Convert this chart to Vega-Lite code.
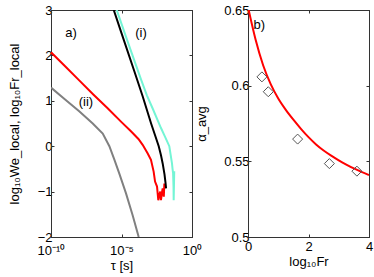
{
  "$schema": "https://vega.github.io/schema/vega-lite/v6.json",
  "padding": {"left": 7, "top": 3, "right": 2, "bottom": 0},
  "background": "white",
  "config": {
    "view": {"stroke": "#333", "strokeWidth": 1},
    "font": "Liberation Sans",
    "axis": {"grid": false, "labelFont": "Liberation Sans", "labelFontSize": 13, "labelColor": "#000", "titleFont": "Liberation Sans", "titleFontSize": 13, "titleFontWeight": "normal", "titleColor": "#000", "domainColor": "#333", "tickColor": "#333", "tickSize": -3, "labelPadding": 2, "labelFlush": false, "labelOverlap": false}
  },
  "datasets": {
    "curves": [
      {"series": "red", "tau": 1e-10, "v": 2.07},
      {"series": "red", "tau": 1e-9, "v": 1.76},
      {"series": "red", "tau": 1e-8, "v": 1.45},
      {"series": "red", "tau": 1e-7, "v": 1.14},
      {"series": "red", "tau": 1e-6, "v": 0.84},
      {"series": "red", "tau": 1e-5, "v": 0.53},
      {"series": "red", "tau": 4.68e-5, "v": 0.33},
      {"series": "red", "tau": 1.585e-4, "v": 0.16},
      {"series": "red", "tau": 3.162e-4, "v": 0.03},
      {"series": "red", "tau": 7.24e-4, "v": -0.16},
      {"series": "red", "tau": 1.23e-3, "v": -0.30},
      {"series": "red", "tau": 1.905e-3, "v": -0.56},
      {"series": "red", "tau": 2.399e-3, "v": -0.78},
      {"series": "red", "tau": 3.311e-3, "v": -0.89},
      {"series": "red", "tau": 4.074e-3, "v": -1.19},
      {"series": "red", "tau": 5.012e-3, "v": -1.05},
      {"series": "red", "tau": 5.623e-3, "v": -1.0},
      {"series": "red", "tau": 6.31e-3, "v": -1.19},
      {"series": "red", "tau": 7.586e-3, "v": -1.0},
      {"series": "red", "tau": 8.318e-3, "v": -0.93},
      {"series": "red", "tau": 1e-2, "v": -1.11},
      {"series": "red", "tau": 1.096e-2, "v": -0.82},
      {"series": "cyan", "tau": 4.571e-6, "v": 3.0},
      {"series": "cyan", "tau": 3.162e-5, "v": 2.25},
      {"series": "cyan", "tau": 2.239e-4, "v": 1.5},
      {"series": "cyan", "tau": 6.31e-4, "v": 1.12},
      {"series": "cyan", "tau": 1.622e-3, "v": 0.83},
      {"series": "cyan", "tau": 6.31e-3, "v": 0.4},
      {"series": "cyan", "tau": 1.259e-2, "v": 0.2},
      {"series": "cyan", "tau": 2.455e-2, "v": 0.0},
      {"series": "cyan", "tau": 3.802e-2, "v": -0.38},
      {"series": "cyan", "tau": 4.169e-2, "v": -0.5},
      {"series": "cyan", "tau": 5.495e-2, "v": -0.55},
      {"series": "cyan", "tau": 4.571e-2, "v": -0.6},
      {"series": "cyan", "tau": 4.898e-2, "v": -0.9},
      {"series": "cyan", "tau": 5.012e-2, "v": -1.19},
      {"series": "black", "tau": 2.818e-6, "v": 3.0},
      {"series": "black", "tau": 1e-5, "v": 2.49},
      {"series": "black", "tau": 8.128e-5, "v": 1.65},
      {"series": "black", "tau": 3.162e-4, "v": 1.1},
      {"series": "black", "tau": 1.259e-3, "v": 0.5},
      {"series": "black", "tau": 2.399e-3, "v": 0.24},
      {"series": "black", "tau": 4.365e-3, "v": 0.0},
      {"series": "black", "tau": 6.31e-3, "v": -0.2},
      {"series": "black", "tau": 8.318e-3, "v": -0.38},
      {"series": "black", "tau": 1.122e-2, "v": -0.62},
      {"series": "black", "tau": 1.318e-2, "v": -0.8},
      {"series": "black", "tau": 1.445e-2, "v": -0.93},
      {"series": "gray", "tau": 1e-10, "v": 1.29},
      {"series": "gray", "tau": 1e-9, "v": 1.03},
      {"series": "gray", "tau": 1e-8, "v": 0.77},
      {"series": "gray", "tau": 9.12e-8, "v": 0.5},
      {"series": "gray", "tau": 4.677e-7, "v": 0.28},
      {"series": "gray", "tau": 1.38e-6, "v": 0.0},
      {"series": "gray", "tau": 3.162e-6, "v": -0.3},
      {"series": "gray", "tau": 6.918e-6, "v": -0.6},
      {"series": "gray", "tau": 2.089e-5, "v": -1.04},
      {"series": "gray", "tau": 6.166e-5, "v": -1.52},
      {"series": "gray", "tau": 1.66e-4, "v": -2.0}
    ],
    "notesA": [
      {"tau": 2.63e-9, "v": 2.49, "label": "a)"},
      {"tau": 2.4e-4, "v": 2.49, "label": "(i)"},
      {"tau": 3.02e-8, "v": 0.98, "label": "(ii)"}
    ],
    "fit": [
      {"fr": 0, "alpha": 0.652},
      {"fr": 0.25, "alpha": 0.6305},
      {"fr": 0.5, "alpha": 0.6135},
      {"fr": 0.75, "alpha": 0.601},
      {"fr": 1, "alpha": 0.5915},
      {"fr": 1.25, "alpha": 0.584},
      {"fr": 1.5, "alpha": 0.5775},
      {"fr": 1.75, "alpha": 0.5715},
      {"fr": 2, "alpha": 0.566},
      {"fr": 2.25, "alpha": 0.5612},
      {"fr": 2.5, "alpha": 0.5572},
      {"fr": 2.75, "alpha": 0.5538},
      {"fr": 3, "alpha": 0.5507},
      {"fr": 3.25, "alpha": 0.5479},
      {"fr": 3.5, "alpha": 0.5453},
      {"fr": 3.75, "alpha": 0.5430},
      {"fr": 4, "alpha": 0.541}
    ],
    "pts": [
      {"fr": 0.46, "alpha": 0.6058},
      {"fr": 0.67, "alpha": 0.596},
      {"fr": 1.64, "alpha": 0.5647},
      {"fr": 2.69, "alpha": 0.5485},
      {"fr": 3.6, "alpha": 0.5435}
    ],
    "notesB": [
      {"fr": 0.37, "alpha": 0.64, "label": "b)"}
    ]
  },
  "spacing": -9,
  "hconcat": [
    {
      "width": 141,
      "height": 227,
      "layer": [
        {
          "data": {"name": "curves"},
          "mark": {"type": "line", "strokeWidth": 2, "clip": true},
          "encoding": {
            "x": {"field": "tau", "type": "quantitative", "scale": {"type": "log", "domain": [1e-10, 1], "nice": false},
                  "axis": {"values": [1e-10, 1e-5, 1], "labelExpr": "datum.value < 1e-7 ? '10⁻¹⁰' : (datum.value < 0.1 ? '10⁻⁵' : '10⁰')", "title": "τ [s]", "titlePadding": 2, "labelPadding": 10}},
            "y": {"field": "v", "type": "quantitative", "scale": {"domain": [-2, 3], "nice": false, "zero": false},
                  "axis": {"values": [-2, -1, 0, 1, 2, 3], "title": "log₁₀We_local, log₁₀Fr_local", "titleX": -37, "titleBaseline": "middle"}},
            "color": {"field": "series", "type": "nominal", "scale": {"domain": ["red", "cyan", "black", "gray"], "range": ["#ff0000", "#74f5d5", "#000000", "#808080"]}, "legend": null}
          }
        },
        {
          "mark": {"type": "rule", "strokeDash": [5, 4], "strokeWidth": 1.5, "color": "#000"},
          "encoding": {"y": {"datum": 0, "axis": null}}
        },
        {
          "data": {"name": "notesA"},
          "mark": {"type": "text", "font": "Liberation Sans", "fontSize": 13, "color": "#000"},
          "encoding": {
            "x": {"field": "tau", "type": "quantitative", "scale": {"type": "log", "domain": [1e-10, 1], "nice": false},
                  "axis": {"orient": "top", "values": [1e-10, 1e-5, 1], "labels": false, "title": null}},
            "y": {"field": "v", "type": "quantitative", "scale": {"domain": [-2, 3], "nice": false, "zero": false},
                  "axis": {"orient": "right", "values": [-2, -1, 0, 1, 2, 3], "labels": false, "title": null}},
            "text": {"field": "label"}
          }
        }
      ],
      "resolve": {"axis": {"x": "independent", "y": "independent"}}
    },
    {
      "width": 121,
      "height": 227,
      "layer": [
        {
          "data": {"name": "fit"},
          "mark": {"type": "line", "color": "#ff0000", "strokeWidth": 2, "clip": true, "interpolate": "monotone"},
          "encoding": {
            "x": {"field": "fr", "type": "quantitative", "scale": {"domain": [0, 4], "nice": false},
                  "axis": {"values": [0, 2, 4], "title": "log₁₀Fr", "titlePadding": 2, "labelPadding": 6}},
            "y": {"field": "alpha", "type": "quantitative", "scale": {"domain": [0.5, 0.65], "nice": false, "zero": false},
                  "axis": {"values": [0.5, 0.55, 0.6, 0.65], "format": ".2~f", "title": "α_avg", "titleX": -47, "titleBaseline": "middle"}}
          }
        },
        {
          "data": {"name": "pts"},
          "mark": {"type": "point", "shape": "diamond", "size": 100, "filled": false, "color": "#555", "strokeWidth": 1, "opacity": 1},
          "encoding": {
            "x": {"field": "fr", "type": "quantitative", "scale": {"domain": [0, 4], "nice": false},
                  "axis": {"orient": "top", "values": [0, 2, 4], "labels": false, "title": null}},
            "y": {"field": "alpha", "type": "quantitative", "scale": {"domain": [0.5, 0.65], "nice": false, "zero": false},
                  "axis": {"orient": "right", "values": [0.5, 0.55, 0.6, 0.65], "labels": false, "title": null}}
          }
        },
        {
          "data": {"name": "notesB"},
          "mark": {"type": "text", "font": "Liberation Sans", "fontSize": 13, "color": "#000"},
          "encoding": {
            "x": {"field": "fr", "type": "quantitative", "axis": null},
            "y": {"field": "alpha", "type": "quantitative", "axis": null},
            "text": {"field": "label"}
          }
        }
      ],
      "resolve": {"axis": {"x": "independent", "y": "independent"}}
    }
  ]
}
